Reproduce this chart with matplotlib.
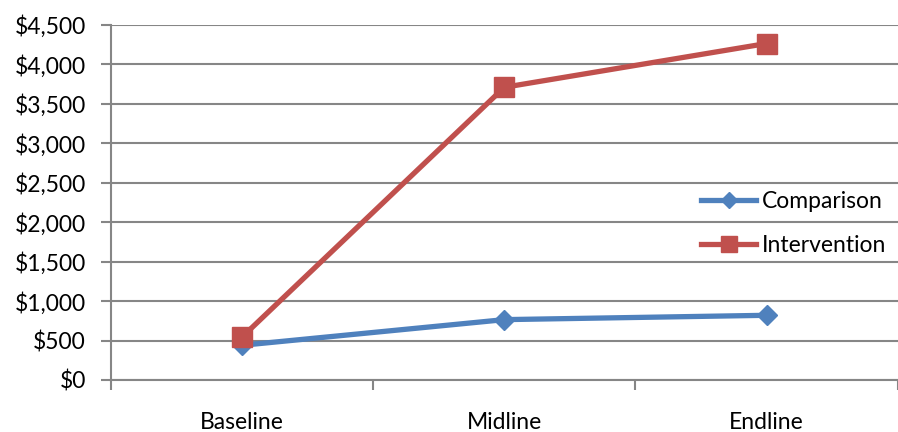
# Line chart: Comparison vs Intervention
import matplotlib.pyplot as plt
from matplotlib.ticker import FuncFormatter, FixedLocator

plt.rcParams['font.family'] = ['Lato', 'DejaVu Sans']

# Data
rondas = ['Baseline', 'Midline', 'Endline']
comparison = [440, 765, 820]
intervention = [545, 3710, 4265]

fig = plt.figure(figsize=(8.98, 4.32), dpi=100)
ax = fig.add_axes([0.1236, 0.1204, 0.876, 0.8218])

x = list(range(len(rondas)))
ax.plot(x, comparison, color='#4F81BD', lw=3.8, marker='D', markersize=10,
        label='Comparison', solid_joinstyle='round', zorder=3)
ax.plot(x, intervention, color='#C0504D', lw=3.8, marker='s', markersize=14,
        label='Intervention', solid_joinstyle='round', zorder=3)

ax.set_xlim(-0.5, 2.5)
ax.set_ylim(0, 4500)
ax.set_yticks(range(0, 4501, 500))
ax.yaxis.set_major_formatter(FuncFormatter(lambda v, p: '${:,.0f}'.format(v)))

# category labels centred, tick marks on boundaries
ax.set_xticks(x)
ax.set_xticklabels(rondas)
ax.xaxis.set_minor_locator(FixedLocator([-0.5, 0.5, 1.5, 2.5]))
ax.tick_params(axis='x', which='major', length=0, pad=23, labelsize=16.5)
ax.tick_params(axis='x', which='minor', length=7, width=1.5, color='#868686', direction='out')
ax.tick_params(axis='y', length=7, width=1.5, color='#868686', labelsize=16.5, pad=11)

ax.grid(axis='y', color='#868686', lw=1.5)
ax.set_axisbelow(True)
for s in ['top', 'right']:
    ax.spines[s].set_visible(False)
ax.spines['left'].set_color('#868686')
ax.spines['left'].set_linewidth(1.5)
ax.spines['bottom'].set_color('#868686')
ax.spines['bottom'].set_linewidth(1.5)

ax.legend(loc='center right', bbox_to_anchor=(1.0, 0.44), frameon=False,
          fontsize=16.5, handlelength=2.4, handletextpad=0.25, labelspacing=1.0,
          borderaxespad=0.1, markerscale=0.85)

fig.savefig('out.png', dpi=100)
